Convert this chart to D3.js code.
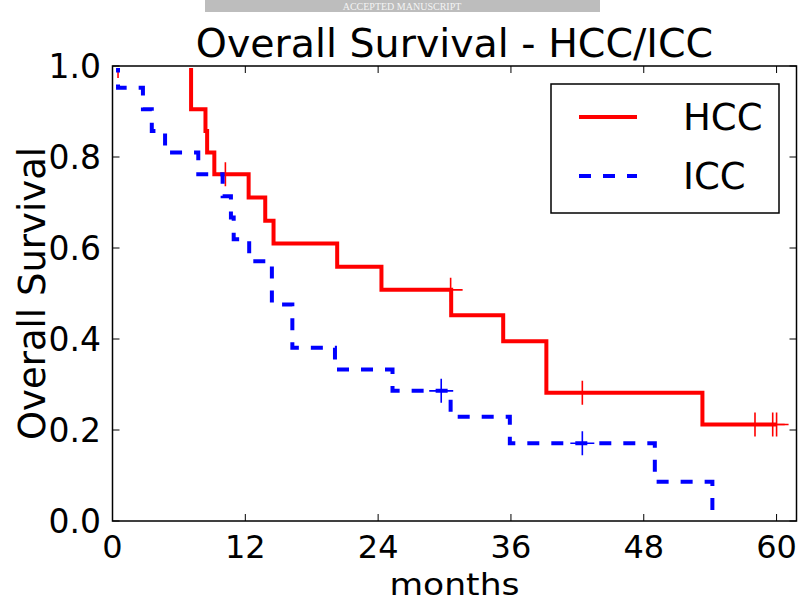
<!DOCTYPE html>
<html>
<head>
<meta charset="utf-8">
<script src="https://cdn.jsdelivr.net/npm/d3@7"></script>
<style>
  html, body { margin: 0; padding: 0; background: #fff; }
  svg { display: block; }
  text { font-family: "DejaVu Sans", sans-serif; }
</style>
</head>
<body>
<div id="chart"></div>
<script>
// ---- data ----
const hccTimes = [0, 7.1, 8.4, 8.55, 9.2, 12.3, 13.8, 14.55, 20.3, 24.3, 30.6, 35.3, 39.2, 53.3, 60.0];
const hccSurv  = [1.0, 0.905, 0.857, 0.810, 0.762, 0.711, 0.660, 0.610, 0.559, 0.508, 0.452, 0.395, 0.282, 0.212, 0.212];
const hccCensorTimes = [0.5, 10.2, 30.55, 42.45, 58.05, 59.65, 60.0];
const hccCensorSurv  = [1.0, 0.762, 0.508, 0.282, 0.212, 0.212, 0.212];

const iccTimes = [0, 0.5, 2.75, 3.55, 4.75, 7.75, 9.95, 10.7, 10.95, 12.35, 14.4, 16.25, 20.1, 25.3, 30.55, 35.9, 49.0, 54.2];
const iccSurv  = [1.0, 0.952, 0.905, 0.857, 0.810, 0.762, 0.714, 0.667, 0.619, 0.571, 0.476, 0.381, 0.333, 0.286, 0.229, 0.171, 0.086, 0.0];
const iccCensorTimes = [29.7, 42.45];
const iccCensorSurv  = [0.286, 0.171];

const xTicks = [0, 12, 24, 36, 48, 60];
const yTicks = [0.0, 0.2, 0.4, 0.6, 0.8, 1.0];
const seriesNames = ["HCC", "ICC"];
const titleText = "Overall Survival - HCC/ICC";
const xLabel = "months";
const yLabel = "Overall Survival";
const bannerText = "ACCEPTED MANUSCRIPT";

// ---- layout ----
const W = 800, H = 602;
const L = 112.5, R = 796.5, T = 66, B = 521;

const svg = d3.select("#chart").append("svg").attr("width", W).attr("height", H);

const x = d3.scaleLinear().domain([0, 61.8]).range([L, R]);
const y = d3.scaleLinear().domain([0, 1]).range([B, T]);

// banner
svg.append("rect").attr("x", 205).attr("y", 0).attr("width", 395).attr("height", 12).attr("fill", "#bdbdbd");
svg.append("text").attr("x", 402).attr("y", 9.5).attr("text-anchor", "middle")
  .style("font-family", "'Liberation Serif', serif").style("font-size", "10px").attr("fill", "#f4f4f4")
  .text(bannerText);

// title
svg.append("text").attr("x", (L + R) / 2).attr("y", 57).attr("text-anchor", "middle")
  .style("font-size", "39.5px").attr("fill", "#000").text(titleText);

// clip (line at the 1.0 level hides under the frame, as in the reference)
svg.append("clipPath").attr("id", "plotclip").append("rect")
  .attr("x", L).attr("y", T + 2).attr("width", R - L).attr("height", B - T - 2);

const plot = svg.append("g").attr("clip-path", "url(#plotclip)");

const line = d3.line().curve(d3.curveStepAfter).x(d => x(d[0])).y(d => y(d[1]));

const series = [
  { times: hccTimes, surv: hccSurv, ct: hccCensorTimes, cs: hccCensorSurv, color: "#ff0000", dash: null },
  { times: iccTimes, surv: iccSurv, ct: iccCensorTimes, cs: iccCensorSurv, color: "#0000ff", dash: "12,12" }
];

const M = 12; // half size of censor marker
series.forEach(s => {
  const pts = s.times.map((t, i) => [t, s.surv[i]]);
  plot.append("path").attr("d", line(pts)).attr("fill", "none")
    .attr("stroke", s.color).attr("stroke-width", 4)
    .attr("stroke-dasharray", s.dash).attr("stroke-linejoin", "miter");
  s.ct.forEach((t, i) => {
    const cx = x(t), cy = y(s.cs[i]);
    plot.append("path").attr("d", `M${cx - M},${cy}H${cx + M}M${cx},${cy - M}V${cy + M}`)
      .attr("stroke", s.color).attr("stroke-width", 1.6).attr("fill", "none");
  });
});

// frame
svg.append("rect").attr("x", L).attr("y", T).attr("width", R - L).attr("height", B - T)
  .attr("fill", "none").attr("stroke", "#000").attr("stroke-width", 1.5);

// ticks (inward, all four sides)
const TL = 7;
xTicks.forEach(v => {
  svg.append("line").attr("x1", x(v)).attr("x2", x(v)).attr("y1", B).attr("y2", B - TL).attr("stroke", "#000").attr("stroke-width", 1);
  svg.append("line").attr("x1", x(v)).attr("x2", x(v)).attr("y1", T).attr("y2", T + TL).attr("stroke", "#000").attr("stroke-width", 1);
  svg.append("text").attr("x", x(v)).attr("y", 558).attr("text-anchor", "middle")
    .style("font-size", "32px").attr("fill", "#000").text(d3.format("d")(v));
});
yTicks.forEach(v => {
  svg.append("line").attr("x1", L).attr("x2", L + TL).attr("y1", y(v)).attr("y2", y(v)).attr("stroke", "#000").attr("stroke-width", 1);
  svg.append("line").attr("x1", R).attr("x2", R - TL).attr("y1", y(v)).attr("y2", y(v)).attr("stroke", "#000").attr("stroke-width", 1);
  svg.append("text").attr("x", 101).attr("y", y(v) + 12).attr("text-anchor", "end")
    .style("font-size", "33px").attr("fill", "#000").text(d3.format(".1f")(v));
});

// axis labels
svg.append("text").attr("x", (L + R) / 2).attr("y", 594.5).attr("text-anchor", "middle")
  .attr("textLength", 130).attr("lengthAdjust", "spacingAndGlyphs")
  .style("font-size", "31px").attr("fill", "#000").text(xLabel);
svg.append("text").attr("transform", `translate(45,${(T + B) / 2}) rotate(-90)`).attr("text-anchor", "middle")
  .style("font-size", "37px").attr("fill", "#000").text(yLabel);

// legend
const lg = svg.append("g");
lg.append("rect").attr("x", 551).attr("y", 84).attr("width", 228).attr("height", 129)
  .attr("fill", "#fff").attr("stroke", "#000").attr("stroke-width", 1.5);
series.forEach((s, i) => {
  const ly = 117 + i * 59;
  lg.append("line").attr("x1", 579).attr("x2", 637).attr("y1", ly).attr("y2", ly)
    .attr("stroke", s.color).attr("stroke-width", 4).attr("stroke-dasharray", s.dash);
  lg.append("text").attr("x", 683).attr("y", ly + 13).style("font-size", "37px").attr("fill", "#000").text(seriesNames[i]);
});
</script>
</body>
</html>
